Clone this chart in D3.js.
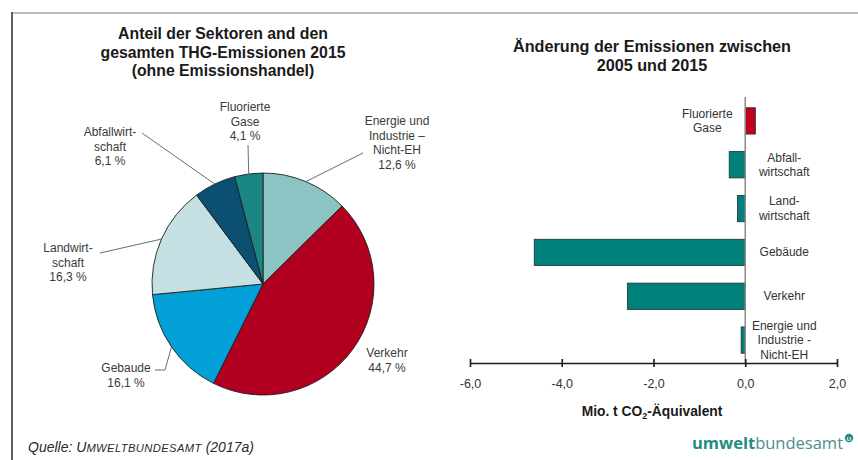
<!DOCTYPE html>
<html>
<head>
<meta charset="utf-8">
<script src="https://cdn.jsdelivr.net/npm/d3@7"></script>
<style>
  html, body { margin: 0; padding: 0; background: #fff; }
  svg { display: block; font-family: "Liberation Sans", Arial, sans-serif; }
</style>
</head>
<body>
<svg id="chart" width="858" height="460"></svg>
<script>
// Anteil der Sektoren (Prozent, 2015)
const sectors = ["Energie und Industrie – Nicht-EH", "Verkehr", "Gebaude", "Landwirtschaft", "Abfallwirtschaft", "Fluorierte Gase"];
const shares = [12.6, 44.7, 16.1, 16.3, 6.1, 4.1];
const pieLabelLines = [["Energie und", "Industrie –", "Nicht-EH"], ["Verkehr"], ["Gebaude"], ["Landwirt-", "schaft"], ["Abfallwirt-", "schaft"], ["Fluorierte", "Gase"]];
const pieColors = ["#8cc3c3", "#b1001f", "#03a0d7", "#c5e0e2", "#0b4f71", "#1b8782"];

// Änderung der Emissionen 2005–2015 (Mio. t CO2-Äquivalent)
const barCategories = ["Fluorierte Gase", "Abfallwirtschaft", "Landwirtschaft", "Gebäude", "Verkehr", "Energie und Industrie - Nicht-EH"];
const changes = [0.22, -0.35, -0.17, -4.6, -2.57, -0.09];
const barLabelLines = [["Fluorierte", "Gase"], ["Abfall-", "wirtschaft"], ["Land-", "wirtschaft"], ["Gebäude"], ["Verkehr"], ["Energie und", "Industrie -", "Nicht-EH"]];
const xTicks = [-6, -4, -2, 0, 2];

const de = d3.formatLocale({ decimal: ",", thousands: ".", grouping: [3], currency: ["", " €"], minus: "-" });
const fmt1 = de.format(".1f");

const svg = d3.select("#chart");

// frame
svg.append("line").attr("x1", 12).attr("x2", 858).attr("y1", 13).attr("y2", 13)
  .attr("stroke", "#bdbdbd").attr("stroke-width", 2);
svg.append("line").attr("x1", 12).attr("x2", 12).attr("y1", 12).attr("y2", 460)
  .attr("stroke", "#2b2b2b").attr("stroke-width", 1.5);

// ---------- Kreisdiagramm ----------
const leftTitle = ["Anteil der Sektoren and den", "gesamten THG-Emissionen 2015", "(ohne Emissionshandel)"];
svg.append("g").selectAll("text").data(leftTitle).join("text")
  .attr("x", 223).attr("y", (d, i) => 39 + i * 18.5)
  .attr("text-anchor", "middle").attr("font-size", 15.8).attr("font-weight", "bold")
  .attr("fill", "#1a1a1a").text(d => d);

const cx = 263, cy = 284, R = 111;
const pie = d3.pie().sort(null).value(d => d)(shares);
const arc = d3.arc().innerRadius(0).outerRadius(R);
const gPie = svg.append("g").attr("transform", `translate(${cx},${cy})`);
gPie.selectAll("path").data(pie).join("path")
  .attr("d", arc).attr("fill", (d, i) => pieColors[i])
  .attr("stroke", "#1d1d1d").attr("stroke-width", 0.9);

// label placement relative to the pie centre
const labelLayout = [
  { tx: 134, ty: -159, lead: [[100, -131]] },
  { tx: 124, ty: 73, lead: null },
  { tx: -137, ty: 88, lead: [[-98, 86], [-108, 86]] },
  { tx: -195, ty: -32, lead: [[-163, -31]] },
  { tx: -153, ty: -148, lead: [[-121, -151]] },
  { tx: -18, ty: -173, lead: [[-15, -139]] }
];
pie.forEach((d, i) => {
  const L = labelLayout[i];
  if (L.lead) {
    const mid = (d.startAngle + d.endAngle) / 2;
    const start = [R * Math.sin(mid), -R * Math.cos(mid)];
    gPie.append("path")
      .attr("d", d3.line()([start, ...L.lead]))
      .attr("fill", "none").attr("stroke", "#6d6d6d").attr("stroke-width", 1);
  }
  const lines = [...pieLabelLines[i], fmt1(shares[i]) + " %"];
  gPie.append("g").selectAll("text").data(lines).join("text")
    .attr("x", L.tx).attr("y", (t, k) => L.ty + k * 14.6)
    .attr("text-anchor", "middle").attr("font-size", 12).attr("fill", "#3a3a3a")
    .text(t => t);
});

// ---------- Balkendiagramm ----------
const rightTitle = ["Änderung der Emissionen zwischen", "2005 und 2015"];
svg.append("g").selectAll("text").data(rightTitle).join("text")
  .attr("x", 652).attr("y", (d, i) => 52 + i * 18.5)
  .attr("text-anchor", "middle").attr("font-size", 16.2).attr("font-weight", "bold")
  .attr("fill", "#1a1a1a").text(d => d);

const x = d3.scaleLinear().domain([-6, 2]).range([470, 837]);
const y = d3.scaleBand().domain(barCategories).range([99, 362]).paddingInner(0.4).paddingOuter(0.2);

svg.append("g").selectAll("rect").data(changes).join("rect")
  .attr("x", d => x(Math.min(0, d)))
  .attr("width", d => Math.abs(x(d) - x(0)))
  .attr("y", (d, i) => y(barCategories[i]))
  .attr("height", y.bandwidth())
  .attr("fill", d => d > 0 ? "#c2001f" : "#00807b")
  .attr("stroke", "#1f2f2f").attr("stroke-width", 0.8);

// zero line
svg.append("line").attr("x1", x(0)).attr("x2", x(0)).attr("y1", 97).attr("y2", 363)
  .attr("stroke", "#8a8a8a").attr("stroke-width", 1.5);

// category labels on the side opposite the bar
changes.forEach((v, i) => {
  const lines = barLabelLines[i];
  const c = y(barCategories[i]) + y.bandwidth() / 2;
  const lx = v < 0 ? x(0) + 39 : x(0) - 38;
  svg.append("g").selectAll("text").data(lines).join("text")
    .attr("x", lx).attr("y", (t, k) => c - (lines.length - 1) * 14.5 / 2 + 4 + k * 14.5)
    .attr("text-anchor", "middle").attr("font-size", 12).attr("fill", "#333")
    .text(t => t);
});

// x axis
const axis = svg.append("g").attr("transform", "translate(0,363)")
  .call(d3.axisBottom(x).tickValues(xTicks).tickSize(4).tickSizeOuter(0).tickPadding(12).tickFormat(fmt1));
axis.select(".domain").attr("stroke", "#1a1a1a").attr("stroke-width", 1.6);
axis.selectAll(".tick line").attr("y1", -4).attr("y2", 4).attr("stroke", "#1a1a1a").attr("stroke-width", 1.6);
axis.selectAll(".tick text").attr("font-size", 12.5).attr("fill", "#333")
  .attr("font-family", "Liberation Sans, Arial, sans-serif");

const axTitle = svg.append("text").attr("x", 652).attr("y", 416).attr("text-anchor", "middle")
  .attr("font-size", 13.8).attr("font-weight", "bold").attr("fill", "#1a1a1a");
axTitle.append("tspan").text("Mio. t CO");
axTitle.append("tspan").attr("font-size", 9).attr("dy", 3).text("2");
axTitle.append("tspan").attr("dy", -3).text("-Äquivalent");

// ---------- Quelle und Logo ----------
const src = svg.append("text").attr("x", 28).attr("y", 452)
  .attr("font-size", 14).attr("font-style", "italic").attr("fill", "#2a2a2a");
src.append("tspan").text("Quelle: ");
src.append("tspan").text("U");
src.append("tspan").attr("font-size", 11.2).attr("letter-spacing", 0.4).text("MWELTBUNDESAMT");
src.append("tspan").text(" (2017a)");

const logo = svg.append("text").attr("x", 692).attr("y", 449).attr("font-size", 16.5)
  .attr("font-family", "Open Sans, Liberation Sans, sans-serif");
logo.append("tspan").attr("font-weight", "bold").attr("fill", "#1f8c83").text("umwelt");
logo.append("tspan").attr("fill", "#4b8e8a").text("bundesamt");
svg.append("circle").attr("cx", 849).attr("cy", 438).attr("r", 4.2).attr("fill", "#1f8c83");
svg.append("text").attr("x", 849).attr("y", 440.5).attr("text-anchor", "middle")
  .attr("font-size", 6).attr("font-weight", "bold").attr("fill", "#fff").text("U");
</script>
</body>
</html>
